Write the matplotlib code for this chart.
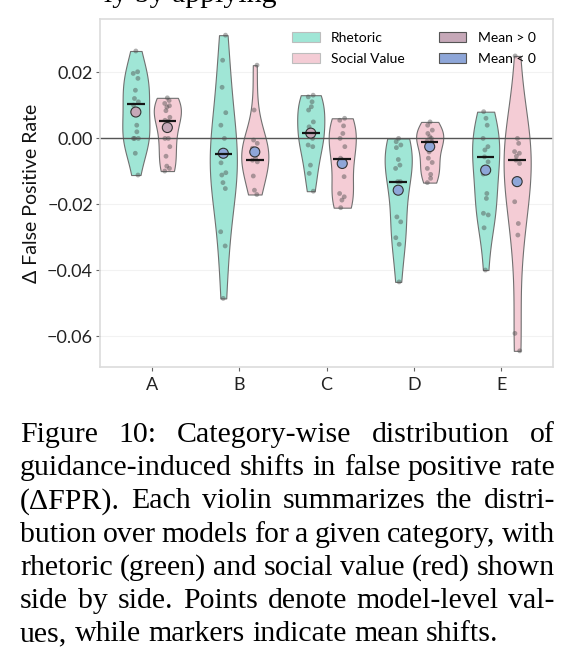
import matplotlib
matplotlib.use("Agg")
import matplotlib.pyplot as plt
import numpy as np
from matplotlib.patches import Patch

# ---------------- data ----------------
categories = ["A", "B", "C", "D", "E"]

rhetoric_values = [
    [0.0265, 0.0202, 0.0197, 0.0182, 0.0146, 0.0121, 0.0111, 0.0101, 0.0040, 0.0020, 0.0, 0.0, 0.0, -0.0045, -0.0111],
    [0.0313, 0.0237, 0.0155, 0.0078, 0.0040, 0.0, -0.0045, -0.0074, -0.0104, -0.0111, -0.0134, -0.0152, -0.0283, -0.0326, -0.0485],
    [0.0131, 0.0126, 0.0111, 0.0096, 0.0086, 0.0050, 0.0035, 0.0015, 0.0, -0.0020, -0.0025, -0.0081, -0.0106, -0.0160],
    [0.0, -0.0010, -0.0020, -0.0028, -0.0064, -0.0081, -0.0091, -0.0131, -0.0131, -0.0238, -0.0253, -0.0301, -0.0321, -0.0435],
    [0.0081, 0.0061, 0.0040, 0.0, -0.0025, -0.0035, -0.0056, -0.0071, -0.0108, -0.0167, -0.0182, -0.0227, -0.0232, -0.0271, -0.0399],
]
social_values = [
    [0.0123, 0.0115, 0.0106, 0.0099, 0.0095, 0.0084, 0.0064, 0.0055, 0.0052, 0.0, 0.0, -0.0025, -0.0054, -0.0084, -0.0091, -0.0099],
    [0.0222, 0.0086, -0.0005, -0.0015, -0.0030, -0.0040, -0.0061, -0.0066, -0.0071, -0.0114, -0.0157, -0.0170],
    [0.0061, 0.0055, 0.0038, 0.0015, 0.0, -0.0025, -0.0060, -0.0065, -0.0116, -0.0167, -0.0177, -0.0187, -0.0210],
    [0.0050, 0.0040, 0.0025, 0.0015, 0.0005, 0.0, -0.0008, -0.0010, -0.0041, -0.0060, -0.0073, -0.0091, -0.0109, -0.0121, -0.0134],
    [0.0250, 0.0, -0.0015, -0.0040, -0.0045, -0.0054, -0.0066, -0.0076, -0.0192, -0.0258, -0.0293, -0.0591, -0.0644],
]
rhetoric_means = [0.0080, -0.0045, 0.0016, -0.0157, -0.0096]
social_means = [0.0033, -0.0041, -0.0076, -0.0025, -0.0131]
rhetoric_medians = [0.0103, -0.0048, 0.0015, -0.0131, -0.0056]
social_medians = [0.0052, -0.0064, -0.0063, -0.0010, -0.0064]

yticks = [-0.06, -0.04, -0.02, 0.00, 0.02]
legend_labels = ["Rhetoric", "Social Value", "Mean > 0", "Mean < 0"]
ylabel = "Δ False Positive Rate"
caption_lines = [
    "Figure 10:  Category-wise distribution of",
    "guidance-induced shifts in false positive rate",
    "(ΔFPR). Each violin summarizes the distri-",
    "bution over models for a given category, with",
    "rhetoric (green) and social value (red) shown",
    "side by side. Points denote model-level val-",
    "ues, while markers indicate mean shifts.",
]
top_fragment = "ly by applying"

# ---------------- style ----------------
RH = "#a0e6d6"
SO = "#f4ccd5"
POS = "#c6a8b8"
NEG = "#8ea6d8"
SANS = ["Lato", "DejaVu Sans"]
SERIF = ["Liberation Serif", "DejaVu Serif"]

W, H, DPI = 575, 662, 100
fig = plt.figure(figsize=(W / DPI, H / DPI), dpi=DPI)
fig.patch.set_facecolor("white")

ax = fig.add_axes([100 / W, 1 - 367 / H, 453 / W, 348 / H])

pos = np.arange(len(categories))
off = 0.18
groups = [
    (rhetoric_values, rhetoric_means, rhetoric_medians, -off, RH),
    (social_values, social_means, social_medians, off, SO),
]
for vals, means, meds, o, col in groups:
    parts = ax.violinplot(vals, positions=pos + o, widths=0.31,
                          showextrema=False, showmeans=False, showmedians=False)
    for b in parts["bodies"]:
        b.set_facecolor(col)
        b.set_edgecolor("#707070")
        b.set_linewidth(0.8)
        b.set_alpha(1)
        b.set_zorder(1)
    for i, v in enumerate(vals):
        n = len(v)
        jit = 0.03 * np.sin(np.arange(n) * 2.39996 + i)
        ax.scatter(pos[i] + o + jit, v, s=12, color="#4d4d4d", alpha=0.45,
                   edgecolors="none", zorder=3)
    xs = pos + o
    mcol = [POS if m > 0 else NEG for m in means]
    ax.scatter(xs, means, s=52, c=mcol, edgecolors="#333333", linewidths=0.8, zorder=4)
    ax.hlines(meds, xs - 0.1, xs + 0.1, color="#151515", lw=1.6, zorder=5)

ax.axhline(0, color="#555555", lw=1.0, zorder=2)

ax.set_xlim(-0.59, 4.59)
ax.set_ylim(-0.0693, 0.0362)
ax.set_xticks(pos)
ax.set_xticklabels(categories, fontfamily=SANS, fontsize=13, color="#222222")
ax.set_yticks(yticks)
ax.set_yticklabels([("−" if t < 0 else "") + f"{abs(t):.2f}" for t in yticks],
                   fontfamily=SANS, fontsize=13, color="#222222")
ax.tick_params(axis="both", length=3, width=0.8, color="#666666")
ax.tick_params(axis="y", pad=2)
ax.tick_params(axis="x", pad=4)
ax.set_ylabel(ylabel, fontfamily=SANS, fontsize=14, color="#111111", labelpad=5)

ax.yaxis.grid(True, color="#f2f2f2", lw=0.8)
ax.set_axisbelow(True)
for s in ax.spines.values():
    s.set_color("#dcdcdc")
    s.set_linewidth(1.2)

handles = [
    Patch(facecolor=RH, edgecolor="#bdbdbd", linewidth=0.8, label=legend_labels[0]),
    Patch(facecolor=SO, edgecolor="#bdbdbd", linewidth=0.8, label=legend_labels[1]),
    Patch(facecolor=POS, edgecolor="#555555", linewidth=0.8, label=legend_labels[2]),
    Patch(facecolor=NEG, edgecolor="#555555", linewidth=0.8, label=legend_labels[3]),
]
ax.legend(handles=handles, ncol=2, loc="upper left",
          bbox_to_anchor=((292 - 100) / 453, (367 - 32) / 348),
          frameon=False, prop={"family": SANS, "size": 10},
          handlelength=2.0, handleheight=0.75, handletextpad=0.8,
          columnspacing=2.45, labelspacing=0.65, borderpad=0, borderaxespad=0)

# ---------------- caption (justified) ----------------
FS = 21.5
renderer = fig.canvas.get_renderer()


def wpx(s):
    t = fig.text(0, 0, s, fontsize=FS, family=SERIF)
    w = t.get_window_extent(renderer).width
    t.remove()
    return w


x0, x1 = 20, 555
space_w = wpx("a b") - wpx("ab")
base0, step = 442, 33.2
for li, line in enumerate(caption_lines):
    y = base0 + step * li
    words = line.split()
    widths = [wpx(w) for w in words]
    if li < len(caption_lines) - 1:
        gap = (x1 - x0 - sum(widths)) / (len(words) - 1)
    else:
        gap = space_w
    x = x0
    for w, ww in zip(words, widths):
        fig.text(x / W, 1 - y / H, w, fontsize=FS, family=SERIF,
                 ha="left", va="baseline", color="black")
        x += ww + gap

# cut-off line of the page above the figure (only descenders show)
fig.text(104 / W, 1 - 2 / H, top_fragment, fontsize=FS, family=SERIF,
         ha="left", va="baseline", color="black")

fig.savefig("out.png", dpi=DPI, facecolor="white")
